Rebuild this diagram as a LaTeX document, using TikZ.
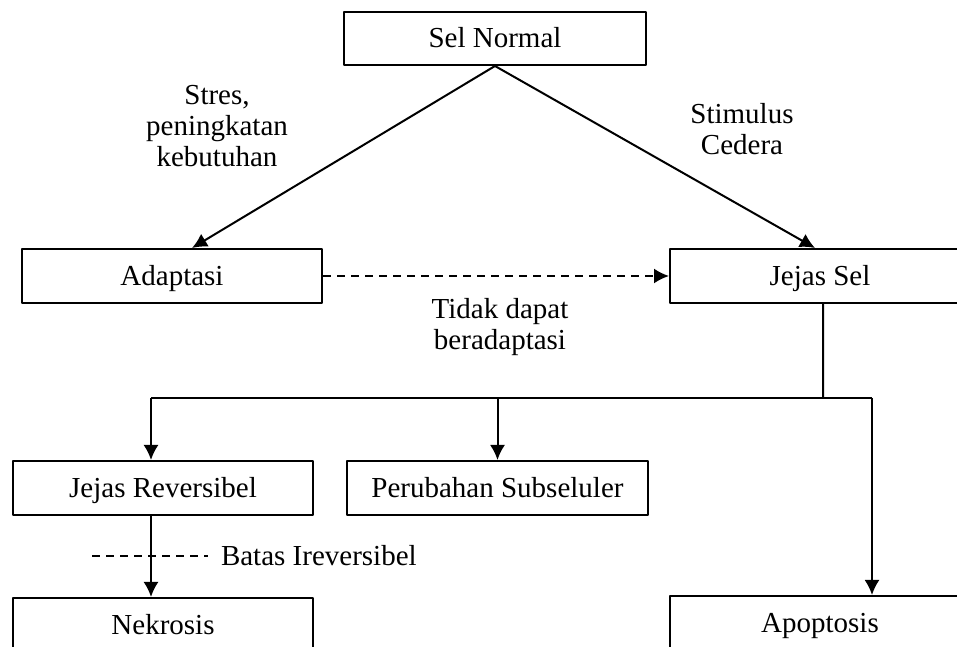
\documentclass[tikz,border=0pt]{standalone}
\usepackage{fontspec}
\setmainfont{Liberation Serif}
\usetikzlibrary{arrows.meta}
\begin{document}
\begin{tikzpicture}[>={Latex[length=7.5bp,width=7.5bp]},line join=bevel,line width=1bp,
  font=\fontsize{14.5bp}{15.5bp}\selectfont,
  box/.style={draw,minimum width=150bp,minimum height=27bp,inner sep=0pt,text height=9.5bp,text depth=0bp},
  lbl/.style={draw=none,align=center,inner sep=0pt}]
%%
\useasboundingbox (0bp,0bp) rectangle (478.5bp,323.5bp);
\clip (0bp,0bp) rectangle (478.5bp,323.5bp);
%%
\node (sel_normal) at (247.5bp,304.25bp) [box,minimum width=151bp,minimum height=26.5bp] {Sel Normal};
  \node (adaptasi) at (86bp,185.5bp) [box] {Adaptasi};
  \node (jejas_sel) at (410bp,185.5bp) [box] {Jejas Sel};
  \node (jejas_rev) at (81.5bp,79.5bp) [box] {Jejas Reversibel};
  \node (subseluler) at (248.75bp,79.5bp) [box,minimum width=150.5bp] {Perubahan Subseluler};
  \node (nekrosis) at (81.5bp,11bp) [box] {Nekrosis};
  \node (apoptosis) at (410bp,12bp) [box] {Apoptosis};
%
\node (stres) at (108.5bp,260.5bp) [lbl] {Stres,\\peningkatan\\kebutuhan};
  \node (stimulus) at (371bp,259bp) [lbl] {Stimulus\\Cedera};
  \node (tidak) at (250bp,160bp) [lbl] {Tidak dapat\\beradaptasi};
  \node (batas) at (104bp,45.5bp) [lbl,anchor=west,inner xsep=6bp] {Batas Ireversibel};
%
\coordinate (split) at (411.5bp,124.5bp);
  \coordinate (left_end) at (75.5bp,124.5bp);
  \coordinate (right_end) at (436bp,124.5bp);
  \coordinate (batas_start) at (46bp,45.5bp);
%
\draw [black,->] (sel_normal.south) -- ([xshift=10bp]adaptasi.north);
  \draw [black,->] (sel_normal.south) -- ([xshift=-2.5bp]jejas_sel.north);
  \draw [black,->,dash pattern=on 4bp off 3bp] (adaptasi.east) -- (jejas_sel.west);
  \draw [black] ([xshift=1.5bp]jejas_sel.south) -- (split);
  \draw [black] (left_end) -- (right_end);
  \draw [black,->] (left_end) -- (left_end |- jejas_rev.north);
  \draw [black,->] (subseluler.north |- split) -- (subseluler.north);
  \draw [black,->] (right_end) -- (right_end |- apoptosis.north);
  \draw [black,->] (left_end |- jejas_rev.south) -- (left_end |- nekrosis.north);
  \draw [black,line width=0.8bp,dash pattern=on 4bp off 3bp] (batas_start) -- (batas.west);
%
\end{tikzpicture}
\end{document}
